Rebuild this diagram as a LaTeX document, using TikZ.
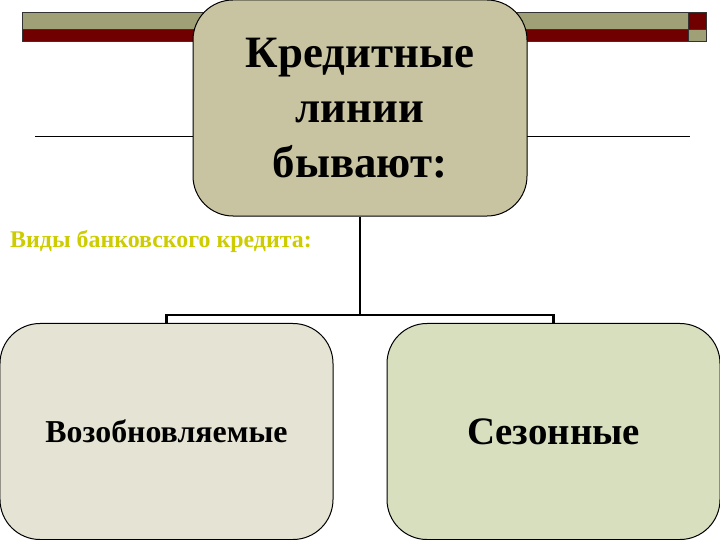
\documentclass[tikz,border=0pt]{standalone}
\usepackage{fontspec}
\setmainfont{Liberation Serif}
\definecolor{barolive}{RGB}{160,160,118}
\definecolor{barred}{RGB}{112,0,0}
\definecolor{boxtan}{RGB}{200,195,161}
\definecolor{boxbeige}{RGB}{229,227,211}
\definecolor{boxgreen}{RGB}{215,223,190}
\definecolor{captionyellow}{RGB}{204,204,0}
\begin{document}
\begin{tikzpicture}[x=1bp,y=-1bp]
		\tikzstyle{bar} = [draw=black!80, line width=0.8bp]
		\tikzstyle{box} = [draw=black, line width=1bp, rounded corners=40bp, align=center, minimum width=333bp, minimum height=216bp]
		\tikzstyle{link} = [draw, line width=2.5bp]
		\useasboundingbox (0,0) rectangle (720,540);
		% bars at the top
		\filldraw [bar, fill=barolive] (22,12) rectangle (688,29);
		\filldraw [bar, fill=barred] (22,29) rectangle (688,41);
		\filldraw [bar, fill=barred] (688,12) rectangle (706,29);
		\filldraw [bar, fill=barolive] (688,29) rectangle (706,41);
		\draw [line width=1bp] (35,137) -- (690,137);
		
		\node [box, fill=boxtan, minimum width=334bp, font=\bfseries\fontsize{45}{55}\selectfont] (top) at (360,108) {Кредитные\\линии\\бывают:};
		\node [anchor=base west, inner sep=0, text=captionyellow, font=\bfseries\fontsize{24}{28}\selectfont] (caption) at (10,248) {Виды банковского кредита:};
		\node [box, fill=boxbeige, font=\bfseries\fontsize{32}{38}\selectfont] (left) at (166.5,431.5) {Возобновляемые};
		\node [box, fill=boxgreen, font=\bfseries\fontsize{39}{46}\selectfont] (right) at (553.5,431.5) {Сезонные};
		\coordinate (fork) at (360,315);
		\draw [link] (top) -- (fork);
		\draw [link] (left.north) |- (fork) -| (right.north);
\end{tikzpicture}
\end{document}
